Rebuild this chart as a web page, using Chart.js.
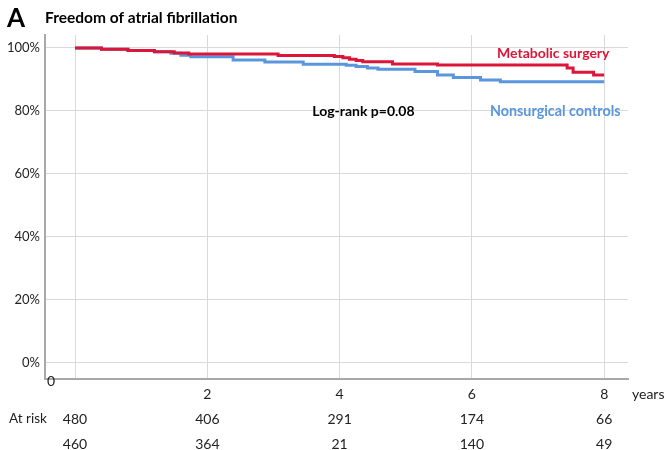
<!DOCTYPE html>
<html>
<head>
<meta charset="utf-8">
<script src="https://cdn.jsdelivr.net/npm/chart.js@4/dist/chart.umd.min.js"></script>
<style>
  html, body { margin: 0; padding: 0; background: #ffffff; }
  #wrap { width: 667px; height: 450px; position: relative; }
  canvas { display: block; }
</style>
</head>
<body>
<div id="wrap"><canvas id="km" width="667" height="450"></canvas></div>
<script>
// Kaplan-Meier estimates: freedom from atrial fibrillation (%), by years of follow-up
const surgeryYears = [0, 0.4, 0.8, 1.2, 1.5, 1.72, 3.07, 3.92, 4.05, 4.15, 4.25, 4.35, 4.8, 5.48, 7.44, 7.53, 7.84, 8.0];
const surgerySurv  = [100, 99.6, 99.2, 98.8, 98.4, 98.1, 97.6, 97.3, 96.9, 96.4, 96.0, 95.6, 94.9, 94.6, 93.6, 92.3, 91.4, 91.4];

const controlYears = [0, 0.4, 0.8, 1.2, 1.45, 1.6, 1.75, 2.39, 2.87, 3.45, 4.1, 4.25, 4.42, 4.58, 5.14, 5.48, 5.72, 6.13, 6.43, 8.0];
const controlSurv  = [100, 99.6, 99.2, 98.8, 98.3, 97.7, 97.2, 96.2, 95.5, 94.8, 94.5, 94.1, 93.6, 93.2, 92.5, 91.4, 90.6, 89.8, 89.3, 89.3];

// Axis ticks
const yearTicks = [0, 2, 4, 6, 8];
const pctTicks  = [0, 20, 40, 60, 80, 100];

// Numbers at risk at each tick year
const atRiskSurgery = [480, 406, 291, 174, 66];
const atRiskControl = [460, 364, 21, 140, 49];

const RED = '#dc1638';
const BLUE = '#5a96dc';
const FONT = 'Lato, "Open Sans", sans-serif';

const toPoints = (xs, ys) => xs.map((x, i) => ({ x: x, y: ys[i] }));

// Titles, in-plot annotations and the at-risk table
const annotations = {
  id: 'annotations',
  afterDraw(chart) {
    const { ctx, scales: { x, y }, chartArea } = chart;
    ctx.save();
    ctx.textBaseline = 'middle';

    ctx.fillStyle = '#000';
    ctx.textAlign = 'left';
    ctx.font = 'bold 26px ' + FONT;
    ctx.fillText('A', 7, 19);
    ctx.font = 'bold 15.5px ' + FONT;
    ctx.fillText('Freedom of atrial fibrillation', 45, 18);

    ctx.textAlign = 'center';
    ctx.font = 'bold 14px ' + FONT;
    ctx.fillStyle = RED;
    ctx.fillText('Metabolic surgery', x.getPixelForValue(7.23), y.getPixelForValue(98.3));
    ctx.fillStyle = BLUE;
    ctx.font = 'bold 14.3px ' + FONT;
    ctx.fillText('Nonsurgical controls', x.getPixelForValue(7.26), y.getPixelForValue(79.7));
    ctx.fillStyle = '#000';
    ctx.font = 'bold 14px ' + FONT;
    ctx.fillText('Log-rank p=0.08', x.getPixelForValue(4.36), y.getPixelForValue(79.7));

    ctx.font = '14px ' + FONT;
    ctx.fillStyle = '#222';
    ctx.fillText('0', chartArea.left + 6, chartArea.bottom + 2);
    ctx.textAlign = 'left';
    ctx.fillText('years', chartArea.right + 4, 394);

    ctx.font = '13.5px ' + FONT;
    ctx.fillText('At risk', 9, 419);
    ctx.font = '14px ' + FONT;
    ctx.textAlign = 'center';
    yearTicks.forEach((t, i) => {
      const px = x.getPixelForValue(t);
      ctx.fillText(String(atRiskSurgery[i]), px, 419);
      ctx.fillText(String(atRiskControl[i]), px, 444);
    });
    ctx.restore();
  }
};

new Chart(document.getElementById('km'), {
  type: 'line',
  data: {
    datasets: [
      {
        label: 'Metabolic surgery',
        data: toPoints(surgeryYears, surgerySurv),
        borderColor: RED,
        borderWidth: 3,
        stepped: true,
        pointRadius: 0,
        fill: false,
        order: 1
      },
      {
        label: 'Nonsurgical controls',
        data: toPoints(controlYears, controlSurv),
        borderColor: BLUE,
        borderWidth: 3,
        stepped: true,
        pointRadius: 0,
        fill: false,
        order: 2
      }
    ]
  },
  options: {
    responsive: false,
    animation: false,
    devicePixelRatio: 1,
    layout: { padding: { left: 0, right: 39, top: 35, bottom: 0 } },
    plugins: {
      legend: { display: false },
      tooltip: { enabled: false },
      title: { display: false }
    },
    scales: {
      x: {
        type: 'linear',
        min: -0.454,
        max: 8.36,
        afterBuildTicks(scale) { scale.ticks = yearTicks.map(v => ({ value: v })); },
        afterFit(scale) { scale.height = 71; },
        ticks: {
          color: '#222',
          font: { family: FONT, size: 14 },
          padding: 7,
          maxRotation: 0,
          autoSkip: false,
          callback: v => (v === 0 ? '' : String(v))
        },
        grid: { color: '#d9d9d9', lineWidth: 1, drawTicks: false },
        border: { display: true, color: '#a8a8a8', width: 2 }
      },
      y: {
        type: 'linear',
        min: -5.08,
        max: 104.1,
        afterBuildTicks(scale) { scale.ticks = pctTicks.map(v => ({ value: v })); },
        afterFit(scale) { scale.width = 45; },
        ticks: {
          color: '#222',
          font: { family: FONT, size: 13 },
          padding: 5,
          callback: v => v + '%'
        },
        grid: { color: '#d9d9d9', lineWidth: 1, drawTicks: false },
        border: { display: true, color: '#a8a8a8', width: 2 }
      }
    }
  },
  plugins: [annotations]
});
</script>
</body>
</html>
